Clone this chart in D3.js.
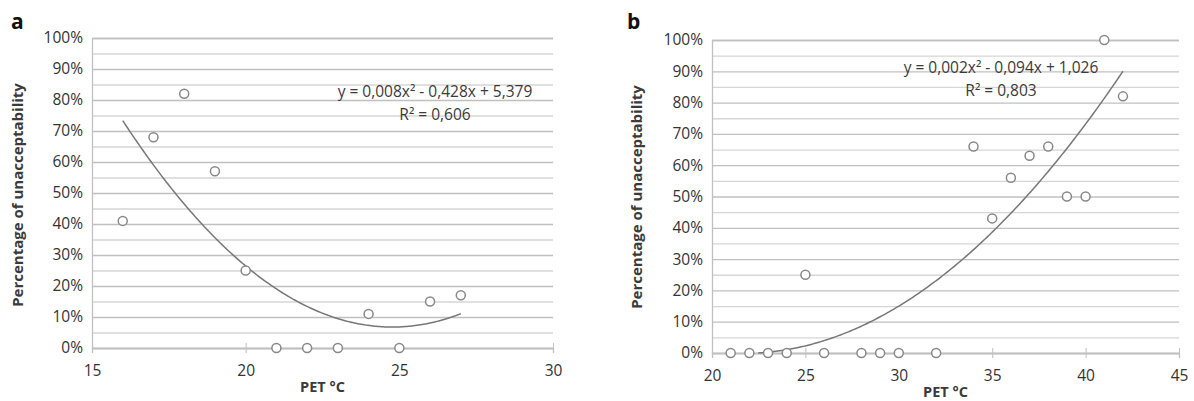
<!DOCTYPE html>
<html>
<head>
<meta charset="utf-8">
<script src="https://cdn.jsdelivr.net/npm/d3@7"></script>
<style>
  body { margin: 0; background: #fff; }
  svg { display: block; }
  text { font-family: "Open Sans", "Noto Sans", sans-serif; fill: #3a3a3a; }
</style>
</head>
<body>
<svg id="chart" width="1194" height="401"></svg>
<script>
// panel a
const petA = [16, 17, 18, 19, 20, 21, 22, 23, 24, 25, 26, 27];
const unaccA = [0.41, 0.68, 0.82, 0.57, 0.25, 0, 0, 0, 0.11, 0, 0.15, 0.17];
const xTicksA = [15, 20, 25, 30];
const eqA = ["y = 0,008x² - 0,428x + 5,379", "R² = 0,606"];

// panel b
const petB = [21, 22, 23, 24, 25, 26, 28, 29, 30, 32, 34, 35, 36, 37, 38, 39, 40, 41, 42];
const unaccB = [0, 0, 0, 0, 0.25, 0, 0, 0, 0, 0, 0.66, 0.43, 0.56, 0.63, 0.66, 0.50, 0.50, 1.00, 0.82];
const xTicksB = [20, 25, 30, 35, 40, 45];
const eqB = ["y = 0,002x² - 0,094x + 1,026", "R² = 0,803"];

const yTicks = [0, 0.1, 0.2, 0.3, 0.4, 0.5, 0.6, 0.7, 0.8, 0.9, 1.0];
const yMinor = [0.05, 0.15, 0.25, 0.35, 0.45, 0.55, 0.65, 0.75, 0.85, 0.95];

// least squares quadratic, like the spreadsheet trendline
function quadFit(xs, ys) {
    let s = [0, 0, 0, 0, 0], t = [0, 0, 0];
    xs.forEach((x, i) => {
        for (let k = 0; k < 5; k++) s[k] += Math.pow(x, k);
        for (let k = 0; k < 3; k++) t[k] += ys[i] * Math.pow(x, k);
    });
    const m = [[s[0], s[1], s[2], t[0]], [s[1], s[2], s[3], t[1]], [s[2], s[3], s[4], t[2]]];
    for (let c = 0; c < 3; c++) {
        for (let r = c + 1; r < 3; r++) {
            const f = m[r][c] / m[c][c];
            for (let k = c; k < 4; k++) m[r][k] -= f * m[c][k];
        }
    }
    const p = [0, 0, 0];
    for (let r = 2; r >= 0; r--) {
        let v = m[r][3];
        for (let k = r + 1; k < 3; k++) v -= m[r][k] * p[k];
        p[r] = v / m[r][r];
    }
    return x => p[0] + p[1] * x + p[2] * x * x;
}

const svg = d3.select("#chart");

function drawPanel(cfg) {
    const g = svg.append("g");
    const x = d3.scaleLinear().domain(cfg.xDomain).range([cfg.left, cfg.right]);
    const y = d3.scaleLinear().domain([0, 1]).range([cfg.bottom, cfg.top]);
    const w = cfg.right - cfg.left;

    // minor gridlines
    g.append("g")
        .attr("transform", `translate(${cfg.left},0)`)
        .call(d3.axisLeft(y).tickValues(yMinor).tickSize(-w).tickFormat(""))
        .call(a => a.select(".domain").remove())
        .selectAll("line").attr("stroke", "#d6d6d6").attr("stroke-width", 1.3);

    // major gridlines + labels
    g.append("g")
        .attr("transform", `translate(${cfg.left},0)`)
        .call(d3.axisLeft(y).tickValues(yTicks).tickSize(-w).tickPadding(9).tickFormat(d3.format(".0%")))
        .call(a => a.select(".domain").attr("stroke", "#c0c0c0").attr("stroke-width", 1.3))
        .call(a => a.selectAll("line").attr("stroke", "#c0c0c0").attr("stroke-width", 1.3))
        .selectAll("text").attr("font-size", 15.5).style("fill", "#333");

    // x axis with cross ticks
    g.append("g")
        .attr("transform", `translate(0,${cfg.bottom})`)
        .call(d3.axisBottom(x).tickValues(cfg.xTicks).tickSize(5).tickPadding(12))
        .call(a => a.select(".domain").attr("stroke", "#c0c0c0").attr("stroke-width", 1.3))
        .call(a => a.selectAll("line").attr("y1", -5).attr("stroke", "#c0c0c0"))
        .selectAll("text").attr("font-size", 15.5).style("fill", "#333");

    // trendline
    const fit = quadFit(cfg.xs, cfg.ys);
    const x0 = d3.min(cfg.xs), x1 = d3.max(cfg.xs);
    const pts = d3.range(0, 201).map(i => x0 + (x1 - x0) * i / 200)
        .map(v => [v, fit(v)]).filter(d => d[1] >= 0);
    g.append("path")
        .datum(pts)
        .attr("fill", "none")
        .attr("stroke", "#777")
        .attr("stroke-width", 1.5)
        .attr("d", d3.line().x(d => x(d[0])).y(d => y(d[1])));

    // points
    g.selectAll("circle.pt")
        .data(cfg.xs.map((v, i) => [v, cfg.ys[i]]))
        .join("circle")
        .attr("class", "pt")
        .attr("cx", d => x(d[0]))
        .attr("cy", d => y(d[1]))
        .attr("r", 4.5)
        .attr("fill", "#fff")
        .attr("stroke", "#888")
        .attr("stroke-width", 1.5);

    // equation
    g.append("text")
        .attr("x", cfg.eqX).attr("y", cfg.eqY)
        .attr("text-anchor", "middle").attr("font-size", 15.5)
        .text(cfg.eq[0]);
    g.append("text")
        .attr("x", cfg.eqX).attr("y", cfg.eqY + 23)
        .attr("text-anchor", "middle").attr("font-size", 15.5)
        .text(cfg.eq[1]);

    // axis titles
    g.append("text")
        .attr("transform", `translate(${cfg.yTitleX},${cfg.yTitleY}) rotate(-90)`)
        .attr("text-anchor", "middle").attr("font-size", 15).attr("font-weight", "bold")
        .attr("dy", "0.35em")
        .text("Percentage of unacceptability");
    g.append("text")
        .attr("x", (cfg.left + cfg.right) / 2).attr("y", cfg.bottom + 44)
        .attr("text-anchor", "middle").attr("font-size", 14.5).attr("font-weight", "bold")
        .text("PET °C");

    // panel letter
    g.append("text")
        .attr("x", cfg.letterX).attr("y", 29)
        .attr("font-size", 21).attr("font-weight", "bold")
        .style("fill", "#111")
        .text(cfg.letter);
}

drawPanel({
    xs: petA, ys: unaccA, xDomain: [15, 30], xTicks: xTicksA, eq: eqA,
    left: 92, right: 553, top: 38, bottom: 348,
    eqX: 435, eqY: 97, yTitleX: 18, yTitleY: 195, letterX: 11, letter: "a"
});
drawPanel({
    xs: petB, ys: unaccB, xDomain: [20, 45], xTicks: xTicksB, eq: eqB,
    left: 712, right: 1179, top: 40, bottom: 353,
    eqX: 1001, eqY: 73, yTitleX: 637, yTitleY: 197, letterX: 627, letter: "b"
});
</script>
</body>
</html>
